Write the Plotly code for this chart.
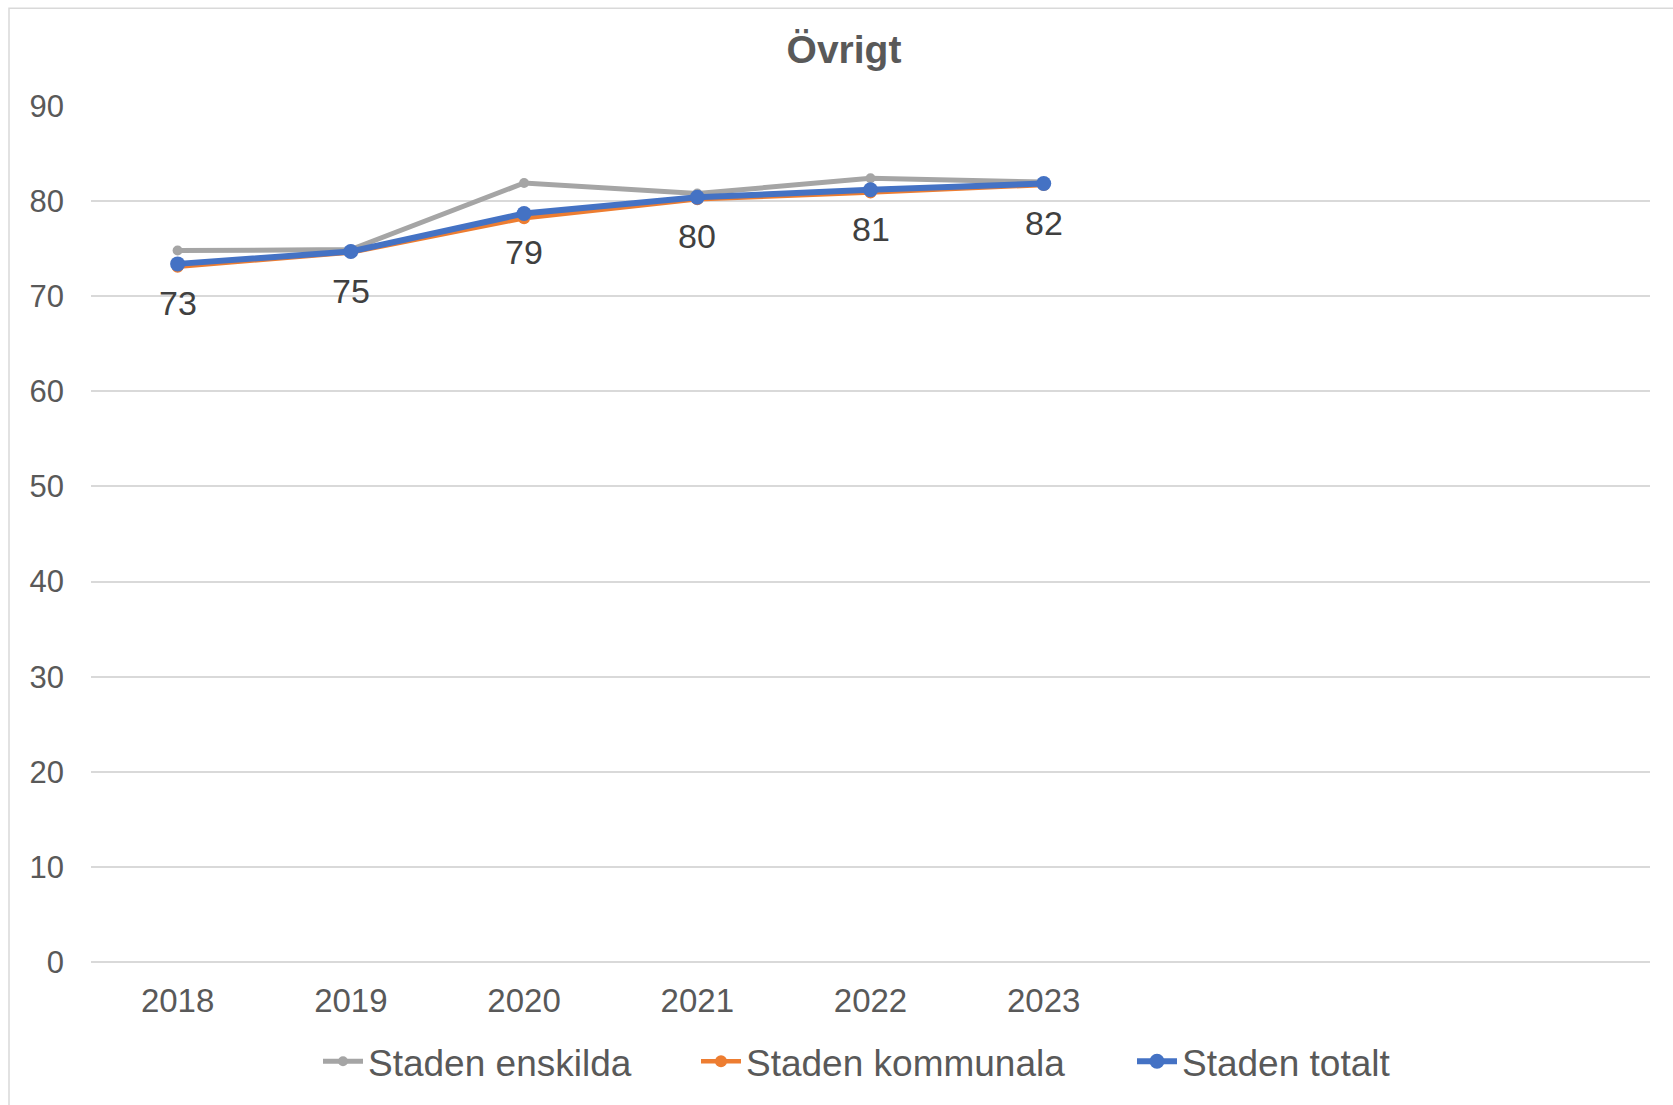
import plotly.graph_objects as go

years = [2018, 2019, 2020, 2021, 2022, 2023]
empty_years = [2024, 2025, 2026]
enskilda = [74.8, 74.9, 81.9, 80.8, 82.4, 82.0]
kommunala = [73.1, 74.6, 78.2, 80.2, 80.9, 81.7]
totalt = [73.4, 74.7, 78.7, 80.4, 81.2, 81.85]
y_ticks = [0, 10, 20, 30, 40, 50, 60, 70, 80, 90]
title_text = "Övrigt"
series_names = ["Staden enskilda", "Staden kommunala", "Staden totalt"]

FONT = "Liberation Sans, Arial, sans-serif"
TXT = "#595959"
L, R, T, B = 91, 23, 106, 140
PW = 1673 - L - R
PH = 1105 - T - B


def px_x(px):
    return (px - L) / PW


def px_y(py):
    return (1105 - B - py) / PH


fig = go.Figure()
fig.add_trace(go.Scatter(x=years, y=enskilda, name=series_names[0], mode="lines+markers",
                         line=dict(color="#A5A5A5", width=5),
                         marker=dict(color="#A5A5A5", size=10), legend="legend"))
fig.add_trace(go.Scatter(x=years, y=kommunala, name=series_names[1], mode="lines+markers",
                         line=dict(color="#ED7D31", width=4.5),
                         marker=dict(color="#ED7D31", size=12), legend="legend2"))
fig.add_trace(go.Scatter(x=years, y=totalt, name=series_names[2], mode="lines+markers",
                         line=dict(color="#4472C4", width=6),
                         marker=dict(color="#4472C4", size=15), legend="legend3"))

for xv, yv in zip(years, totalt):
    fig.add_annotation(x=xv, y=yv, text=str(round(yv)), showarrow=False,
                       yshift=-39, yanchor="middle",
                       font=dict(family=FONT, size=34, color="#404040"))

all_years = years + empty_years
leg_common = dict(orientation="h", yanchor="middle", xanchor="left",
                  font=dict(family=FONT, size=37, color=TXT), itemwidth=40,
                  bgcolor="rgba(0,0,0,0)")
text_starts = [368, 746, 1182]
fig.update_layout(
    width=1673, height=1105,
    margin=dict(l=L, r=R, t=T, b=B),
    paper_bgcolor="white", plot_bgcolor="white",
    font=dict(family=FONT, color=TXT),
    title=dict(text="<b>" + title_text + "</b>", x=844 / 1673, xref="container",
               xanchor="center", y=1 - 49 / 1105, yanchor="middle",
               font=dict(family=FONT, size=39, color=TXT)),
    xaxis=dict(range=[all_years[0] - 0.5, all_years[-1] + 0.5], tickvals=years,
               ticktext=[str(y) for y in years], showgrid=False, zeroline=False,
               showline=False, ticks="", ticklabelstandoff=16,
               tickfont=dict(family=FONT, size=33, color=TXT)),
    yaxis=dict(range=[0, 90], tickvals=y_ticks, showgrid=True, gridcolor="#D9D9D9",
               gridwidth=1.5, zeroline=True, zerolinecolor="#D9D9D9", zerolinewidth=1.5,
               ticks="", ticklabelstandoff=26,
               tickfont=dict(family=FONT, size=31, color=TXT)),
    legend=dict(x=px_x(text_starts[0] - 50), y=px_y(1065), **leg_common),
    legend2=dict(x=px_x(text_starts[1] - 50), y=px_y(1065), **leg_common),
    legend3=dict(x=px_x(text_starts[2] - 50), y=px_y(1065), **leg_common),
    hovermode=False,
    showlegend=True,
)
fig.add_shape(type="rect", xref="paper", yref="paper",
              x0=px_x(9), x1=1.2, y0=-0.4, y1=px_y(8),
              line=dict(color="#D9D9D9", width=1.5), fillcolor="rgba(0,0,0,0)", layer="below")

fig.write_html("out.html", config={"displayModeBar": False},
               post_script="document.body.style.margin='0px';")
